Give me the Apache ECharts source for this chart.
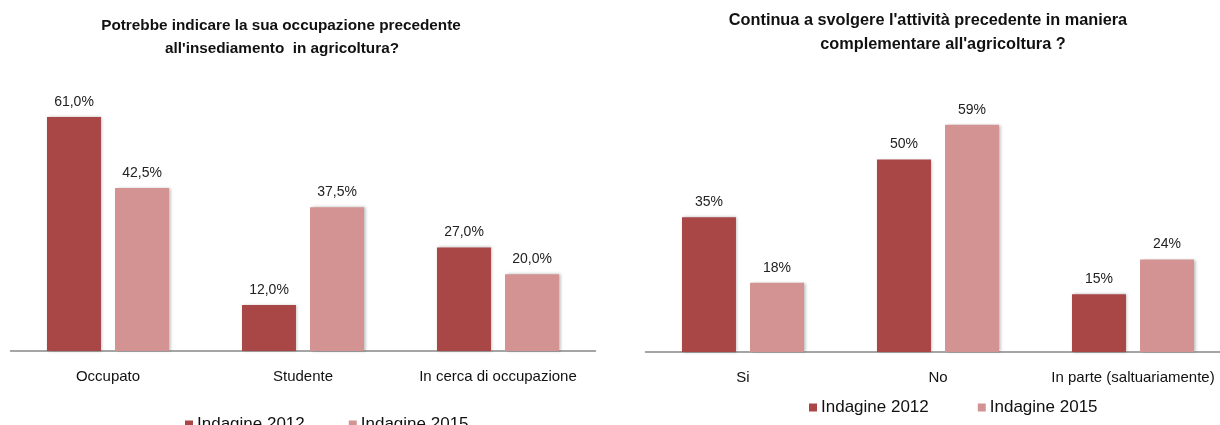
<!DOCTYPE html>
<html>
<head>
<meta charset="utf-8">
<script src="https://cdn.jsdelivr.net/npm/echarts@6/dist/echarts.min.js"></script>
<style>html,body{margin:0;padding:0;background:#fff;overflow:hidden}#c{width:1231px;height:425px}</style>
</head>
<body>
<div id="c"></div>
<script>
var catsLeft = ['Occupato', 'Studente', 'In cerca di occupazione'];
var left2012 = [61.0, 12.0, 27.0];
var left2015 = [42.5, 37.5, 20.0];

var catsRight = ['Si', 'No', 'In parte (saltuariamente)'];
var right2012 = [35, 50, 15];
var right2015 = [18, 59, 24];

var seriesNames = ['Indagine 2012', 'Indagine 2015'];
var titleLeft = ['Potrebbe indicare la sua occupazione precedente', "all'insediamento  in agricoltura?"];
var titleRight = ["Continua a svolgere l'attività precedente in maniera", "complementare all'agricoltura ?"];

var C1 = '#A94646', C2 = '#D39392';
var FONT = 'Liberation Sans';

var chart = echarts.init(document.getElementById('c'));

function barSeries(name, data, color, idx, fmt) {
  return {
    name: name, type: 'bar', data: data, xAxisIndex: idx, yAxisIndex: idx,
    barWidth: 54, barGap: '26%',
    itemStyle: { color: color, shadowColor: 'rgba(0,0,0,0.28)', shadowBlur: 3, shadowOffsetX: 1.5, shadowOffsetY: 0 },
    label: { show: true, position: 'top', distance: 8, color: '#222', fontSize: 14, fontFamily: FONT, formatter: fmt },
    emphasis: { disabled: true }
  };
}
var fmtL = function (p) { return p.value.toFixed(1).replace('.', ',') + '%'; };
var fmtR = function (p) { return p.value + '%'; };

var titleStyleL = { fontSize: 15.3, fontWeight: 'bold', color: '#111', fontFamily: FONT };
var titleStyleR = { fontSize: 16.3, fontWeight: 'bold', color: '#111', fontFamily: FONT };

chart.setOption({
  animation: false,
  title: [
    { text: titleLeft[0], left: 276, top: 13, textAlign: 'center', textStyle: titleStyleL },
    { text: titleLeft[1], left: 277, top: 36, textAlign: 'center', textStyle: titleStyleL },
    { text: titleRight[0], left: 923, top: 8, textAlign: 'center', textStyle: titleStyleR },
    { text: titleRight[1], left: 938, top: 32, textAlign: 'center', textStyle: titleStyleR }
  ],
  legend: [
    { data: seriesNames, left: 180, top: 411, icon: 'rect', itemWidth: 8, itemHeight: 8, itemGap: 44,
      textStyle: { fontSize: 17, color: '#111', fontFamily: FONT, padding: [0, 0, 0, -1] } },
    { data: seriesNames, left: 804, top: 394, icon: 'rect', itemWidth: 8, itemHeight: 8, itemGap: 49,
      textStyle: { fontSize: 17, color: '#111', fontFamily: FONT, padding: [0, 0, 0, -1] } }
  ],
  grid: [
    { left: 10.5, width: 585, top: 82.5, bottom: 74 },
    { left: 645.5, width: 585, top: 82.5, bottom: 73 }
  ],
  xAxis: [
    { type: 'category', data: catsLeft, gridIndex: 0,
      axisLine: { lineStyle: { color: '#888', width: 1.5 } }, axisTick: { show: false },
      axisLabel: { color: '#111', fontSize: 15, fontFamily: FONT, margin: 18, interval: 0 } },
    { type: 'category', data: catsRight, gridIndex: 1,
      axisLine: { lineStyle: { color: '#888', width: 1.5 } }, axisTick: { show: false },
      axisLabel: { color: '#111', fontSize: 15, fontFamily: FONT, margin: 18, interval: 0 } }
  ],
  yAxis: [
    { type: 'value', gridIndex: 0, min: 0, max: 70, show: false, splitLine: { show: false } },
    { type: 'value', gridIndex: 1, min: 0, max: 70, show: false, splitLine: { show: false } }
  ],
  series: [
    barSeries(seriesNames[0], left2012, C1, 0, fmtL),
    barSeries(seriesNames[1], left2015, C2, 0, fmtL),
    barSeries(seriesNames[0], right2012, C1, 1, fmtR),
    barSeries(seriesNames[1], right2015, C2, 1, fmtR)
  ]
});
</script>
</body>
</html>
